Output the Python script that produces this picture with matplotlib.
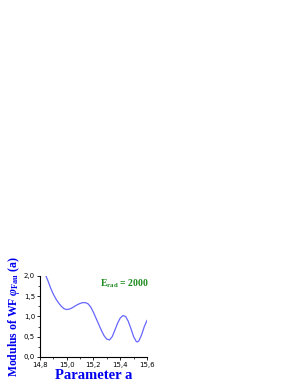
import matplotlib
matplotlib.use("Agg")
import matplotlib.pyplot as plt
from matplotlib.ticker import MultipleLocator, FuncFormatter

plt.rcParams["mathtext.fontset"] = "custom"
plt.rcParams["mathtext.rm"] = "Liberation Serif:bold"
plt.rcParams["mathtext.it"] = "Liberation Serif:italic:bold"
plt.rcParams["mathtext.bf"] = "Liberation Serif:bold"

a_vals = [14.845, 14.86, 14.88, 14.90, 14.92, 14.94, 14.96, 14.98, 15.00, 15.02,
          15.04, 15.06, 15.08, 15.10, 15.12, 15.14, 15.16, 15.18, 15.20, 15.22,
          15.24, 15.26, 15.28, 15.30, 15.32, 15.34, 15.36, 15.38, 15.40, 15.42,
          15.44, 15.46, 15.48, 15.50, 15.52, 15.53, 15.54, 15.56, 15.58, 15.60]
wf_vals = [2.00, 1.88, 1.70, 1.55, 1.43, 1.33, 1.25, 1.19, 1.17, 1.18,
           1.21, 1.25, 1.29, 1.32, 1.34, 1.34, 1.31, 1.23, 1.10, 0.95,
           0.80, 0.65, 0.52, 0.44, 0.42, 0.50, 0.66, 0.83, 0.96, 1.02,
           1.00, 0.88, 0.70, 0.50, 0.38, 0.37, 0.40, 0.55, 0.75, 0.90]

fig = plt.figure(figsize=(3.0, 3.88), dpi=100)
ax = fig.add_axes([0.133, 0.08, 0.357, 0.209])
ax.plot(a_vals, wf_vals, color="#6666ff", lw=0.9)
ax.set_xlim(14.8, 15.6)
ax.set_ylim(0.0, 2.0)
ax.xaxis.set_major_locator(MultipleLocator(0.2))
ax.xaxis.set_minor_locator(MultipleLocator(0.1))
ax.yaxis.set_major_locator(MultipleLocator(0.5))
ax.yaxis.set_minor_locator(MultipleLocator(0.25))
fmt = FuncFormatter(lambda v, p: f"{v:.1f}".replace(".", ","))
ax.xaxis.set_major_formatter(fmt)
ax.yaxis.set_major_formatter(fmt)
for s in ["top", "right"]:
    ax.spines[s].set_visible(False)
for s in ["left", "bottom"]:
    ax.spines[s].set_linewidth(0.8)
ax.tick_params(which="major", length=2.5, width=0.6, labelsize=5, pad=1)
ax.tick_params(which="minor", length=1.5, width=0.5)
ax.set_xlabel("Parameter a", family="Liberation Serif", fontweight="bold",
              fontsize=10.5, color="#0000ee", labelpad=1)
ax.set_ylabel(r"Modulus of WF $\varphi_{\mathrm{Fau}}$ (a)", family="Liberation Serif",
              fontweight="bold", fontsize=8.5, color="#0000ee", labelpad=1)
ax.text(0.56, 0.98, r"E$_{\mathrm{rad}}$ = 2000", transform=ax.transAxes,
        family="Liberation Serif", fontweight="bold", fontsize=7, color="#1a8a1a",
        ha="left", va="top")
fig.savefig("out.png", dpi=100)
